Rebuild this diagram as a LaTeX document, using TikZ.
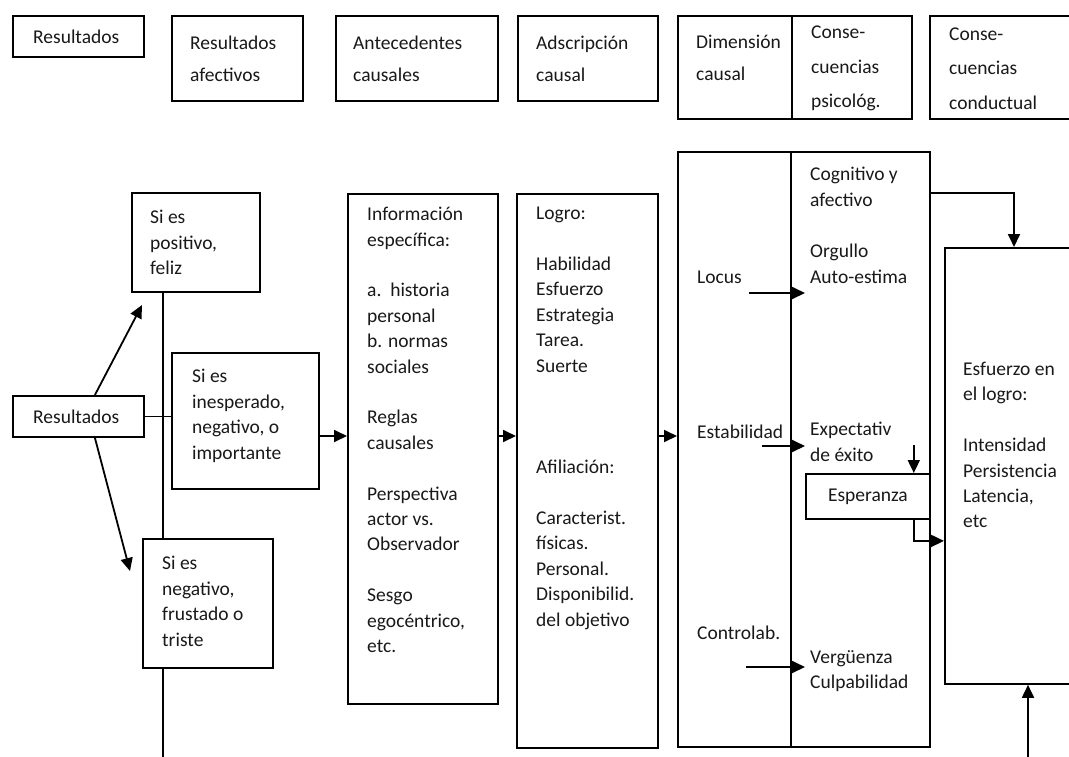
\documentclass[tikz,border=0pt]{standalone}
\usepackage{fontspec}
\setmainfont{Carlito}
\usetikzlibrary{arrows.meta,positioning,calc}

\begin{document}
\begin{tikzpicture}[x=1pt, y=-1pt,
    box/.style = {draw, line width=1.8pt, fill=white, anchor=north west,
      inner sep=0pt}, % frames, size given per node
    txt/.style = {align=left, inner sep=0pt, text=black!90,
      font=\fontsize{19.5}{25.4}\selectfont},
    hd/.style = {txt, font=\fontsize{19.5}{32}\selectfont}, % header row
    hdd/.style = {txt, font=\fontsize{19.5}{34.5}\selectfont}, % three lines
    arr/.style = {line width=1.8pt, -{Triangle[length=13pt,width=12pt]}},
  ]
  \useasboundingbox (0,0) rectangle (1069,756);

  % header row
  \node[box, minimum width=131pt, minimum height=41pt]  (hRes) at (12,15)  {};
  \node[box, minimum width=131pt, minimum height=85pt]  (hAfe) at (171,15) {};
  \node[box, minimum width=162pt, minimum height=85pt]  (hAnt) at (335,15) {};
  \node[box, minimum width=140pt, minimum height=85pt]  (hAds) at (517,15) {};
  \node[box, minimum width=114pt, minimum height=103pt] (hDim) at (677,15) {};
  \node[box, minimum width=120pt, minimum height=103pt] (hPsi) at (791,15) {};
  \node[box, minimum width=160pt, minimum height=103pt] (hCon) at (929,15) {};

  \node[hd, anchor=west] (tRes) at ([xshift=21pt]hRes.west) {Resultados};
  \node[hd, anchor=west] (tAfe) at ([xshift=19pt]hAfe.west) {Resultados\\afectivos};
  \node[hd, anchor=west] (tAnt) at ([xshift=18pt]hAnt.west) {Antecedentes\\causales};
  \node[hd, anchor=west] (tAds) at ([xshift=19pt]hAds.west) {Adscripción\\causal};
  \node[hd, anchor=north west] (tDim) at ([xshift=19pt,yshift=-20pt]hDim.north west) {Dimensión\\causal};
  \node[hdd, anchor=west] (tPsi) at ([xshift=20pt,yshift=-1pt]hPsi.west) {Conse-\\cuencias\\psicológ.};
  \node[hdd, anchor=west] (tCon) at ([xshift=20pt,yshift=-1pt]hCon.west) {Conse-\\cuencias\\conductual};

  % left part
  \node[box, minimum width=128pt, minimum height=99pt] (posBox) at (131,192) {};
  \coordinate (leftEnd) at (163,760);
  \draw[line width=1.8pt] (posBox.south -| leftEnd) -- (leftEnd);
  \node[box, minimum width=147pt, minimum height=136pt] (inesBox) at (171,352) {};
  \node[box, minimum width=130pt, minimum height=129pt] (negBox) at (142,538) {};
  \node[box, minimum width=131pt, minimum height=41pt] (resBox) at (12,395) {};

  \node[txt, anchor=west] (tPos) at ([xshift=19pt]posBox.west) {Si es\\positivo,\\feliz};
  \node[txt, anchor=west] (tInes) at ([xshift=21pt,yshift=5pt]inesBox.west) {Si es\\inesperado,\\negativo, o\\importante};
  \node[txt, anchor=west] (tNeg) at ([xshift=20pt,yshift=2pt]negBox.west) {Si es\\negativo,\\frustado o\\triste};
  \node[txt, anchor=west] (tRes2) at ([xshift=21pt]resBox.west) {Resultados};

  \draw[line width=1.8pt] (resBox.east) -- (resBox.east -| inesBox.west);
  \coordinate (upTip) at (142,305);
  \coordinate (dnTip) at (130,571);
  \draw[arr] ([xshift=16.5pt]resBox.north) -- (upTip);
  \draw[arr] ([xshift=16.5pt]resBox.south) -- (dnTip);

  % middle columns
  \node[box, minimum width=150pt, minimum height=510pt] (infoBox) at (347,193) {};
  \node[box, minimum width=141pt, minimum height=554pt] (logroBox) at (516,193) {};
  \node[txt, anchor=north west] (tInfo) at ([xshift=20pt,yshift=-14pt]infoBox.north west)
    {Información\\específica:\\[25.4pt]a.\ \ historia\\personal\\b. normas\\sociales\\[25.4pt]%
     Reglas\\causales\\[25.4pt]Perspectiva\\actor vs.\\Observador\\[25.4pt]Sesgo\\egocéntrico,\\etc.};
  \node[txt, anchor=north west] (tLogro) at ([xshift=20pt,yshift=-14pt]logroBox.north west)
    {Logro:\\[25.4pt]Habilidad\\Esfuerzo\\Estrategia\\Tarea.\\Suerte\\[76.2pt]%
     Afiliación:\\[25.4pt]Caracterist.\\físicas.\\Personal.\\Disponibilid.\\del objetivo};

  \coordinate (midRow) at (0,436);
  \draw[arr] (inesBox.east |- midRow) -- (infoBox.west |- midRow);
  \draw[arr] (infoBox.east |- midRow) -- (logroBox.west |- midRow);

  % right part
  \node[box, minimum width=113pt, minimum height=595pt] (dimBox) at (677,151) {};
  \node[box, minimum width=139pt, minimum height=595pt] (consBox) at (790,151) {};
  \node[box, minimum width=140pt, minimum height=436pt] (esfBox) at (944,247) {};
  \node[box, minimum width=124pt, minimum height=45pt] (espBox) at (805,473) {};
  \draw[arr] (logroBox.east |- midRow) -- (dimBox.west |- midRow);

  \node[txt, anchor=west] (tLoc) at ([xshift=20pt,yshift=-126pt]dimBox.north west) {Locus};
  \node[txt, anchor=west] (tEst) at ([xshift=20pt,yshift=-281pt]dimBox.north west) {Estabilidad};
  \node[txt, anchor=west] (tCtl) at ([xshift=20pt,yshift=-482pt]dimBox.north west) {Controlab.};

  \node[txt, anchor=north west] (tCog) at ([xshift=20pt,yshift=-16pt]consBox.north west) {Cognitivo y\\afectivo};
  \node[txt, anchor=north west] (tOrg) at ([xshift=20pt,yshift=-93pt]consBox.north west) {Orgullo\\Auto-estima};
  \node[txt, anchor=north west] (tExp) at ([xshift=20pt,yshift=-271pt]consBox.north west) {Expectativ\\de éxito};
  \node[txt, anchor=north west] (tVer) at ([xshift=20pt,yshift=-499pt]consBox.north west) {Vergüenza\\Culpabilidad};
  \node[txt] (tEsp) at (espBox.center) {Esperanza};
  \node[txt, anchor=north west] (tEsf) at ([xshift=19pt,yshift=-115pt]esfBox.north west)
    {Esfuerzo en\\el logro:\\[25.4pt]Intensidad\\Persistencia\\Latencia,\\etc};

  \coordinate (locA) at (749,293); \coordinate (locB) at (805,293);
  \coordinate (estA) at (762,446); \coordinate (estB) at (805,446);
  \coordinate (ctlA) at (746,667); \coordinate (ctlB) at (805,667);
  \foreach \a/\b in {locA/locB, estA/estB, ctlA/ctlB}
    \draw[arr] (\a) -- (\b);

  \draw[arr] ([yshift=-42pt]consBox.north east) -| ([xshift=70pt]esfBox.north west);
  \draw[arr] ([xshift=-17pt,yshift=28pt]espBox.north east) -- ([xshift=-17pt]espBox.north east);
  \draw[arr] ([xshift=-17pt]espBox.south east) |- ([yshift=-75pt]esfBox.west);
  \coordinate (botEnd) at (1028,760);
  \draw[arr] (botEnd) -- (botEnd |- esfBox.south);
\end{tikzpicture}
\end{document}
